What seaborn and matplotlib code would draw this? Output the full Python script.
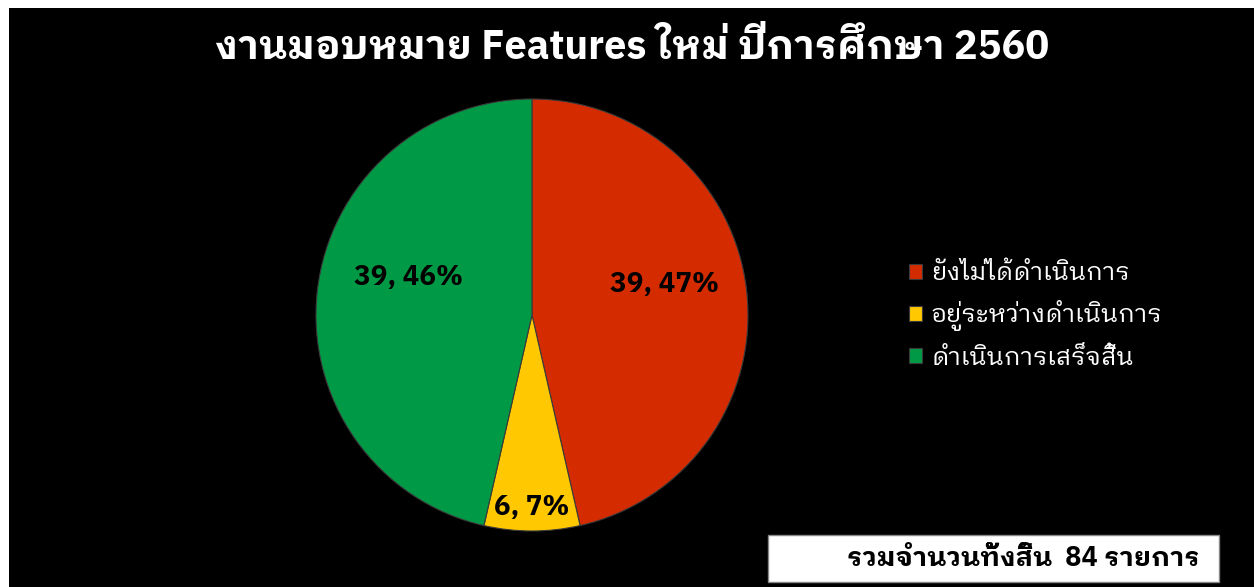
import numpy as np
import matplotlib
matplotlib.use("Agg")
import matplotlib.pyplot as plt
import seaborn as sns
from matplotlib.patches import Rectangle

# data
status = ['ยังไม่ได้ดำเนินการ', 'อยู่ระหว่างดำเนินการ', 'ดำเนินการเสร็จสิ้น']
counts = [39, 6, 39]
pct_labels = ['47%', '7%', '46%']
total = 84
title = 'งานมอบหมาย Features ใหม่ ปีการศึกษา 2560'
colors = ['#D42C00', '#FFC800', '#009A46']

sns.set_theme(style='white')
plt.rcParams['font.family'] = ['IBM Plex Sans Thai Looped', 'Noto Sans Thai Looped', 'DejaVu Sans']

W, H = 1254, 587
fig = plt.figure(figsize=(W / 100, H / 100), dpi=100)
fig.patch.set_facecolor('white')
# black chart area (white strip on top and left like the screenshot)
fig.add_artist(Rectangle((9 / W, 0), 1, (H - 8) / H, transform=fig.transFigure,
                         facecolor='black', edgecolor='none', zorder=0))

cx, cy, r = 532, H - 315, 216
ax = fig.add_axes([(cx - r) / W, (cy - r) / H, 2 * r / W, 2 * r / H])
ax.set_facecolor('none')
wedges, _ = ax.pie(counts, colors=colors, startangle=90, counterclock=False,
                   radius=1, wedgeprops=dict(edgecolor='#3a3a3a', linewidth=0.8))
ax.set_xlim(-1, 1)
ax.set_ylim(-1, 1)
ax.set_aspect('equal')
ax.axis('off')

# data labels "count, pct"
label_r = [0.63, 0.89, 0.60]
label_shift = [6.5, 0, -10.5]
for w, n, p, lr, sh in zip(wedges, counts, pct_labels, label_r, label_shift):
    a = np.deg2rad((w.theta1 + w.theta2) / 2 + sh)
    ax.text(lr * np.cos(a), lr * np.sin(a), f'{n}, {p}', ha='center', va='center',
            fontsize=20, fontweight='bold', color='black')

fig.text(632 / W, 1 - 48 / H, title, ha='center', va='center', color='white',
         fontsize=28.5, fontweight='bold')

leg = fig.legend(wedges, status, loc='center left', bbox_to_anchor=(886 / W, 1 - 316 / H),
                 frameon=False, fontsize=18, labelcolor='white', handlelength=0.55,
                 handleheight=0.55, handletextpad=0.35, labelspacing=0.6)

# total box
fig.add_artist(Rectangle((768 / W, 1 - 582 / H), (1219 - 768) / W, (582 - 535) / H,
                         transform=fig.transFigure, facecolor='white',
                         edgecolor='#888888', linewidth=1))
fig.text(1200 / W, 1 - 558 / H, f'รวมจำนวนทั้งสิ้น  {total} รายการ', ha='right',
         va='center', color='black', fontsize=19.5, fontweight='bold')

fig.savefig('out.png', dpi=100)
